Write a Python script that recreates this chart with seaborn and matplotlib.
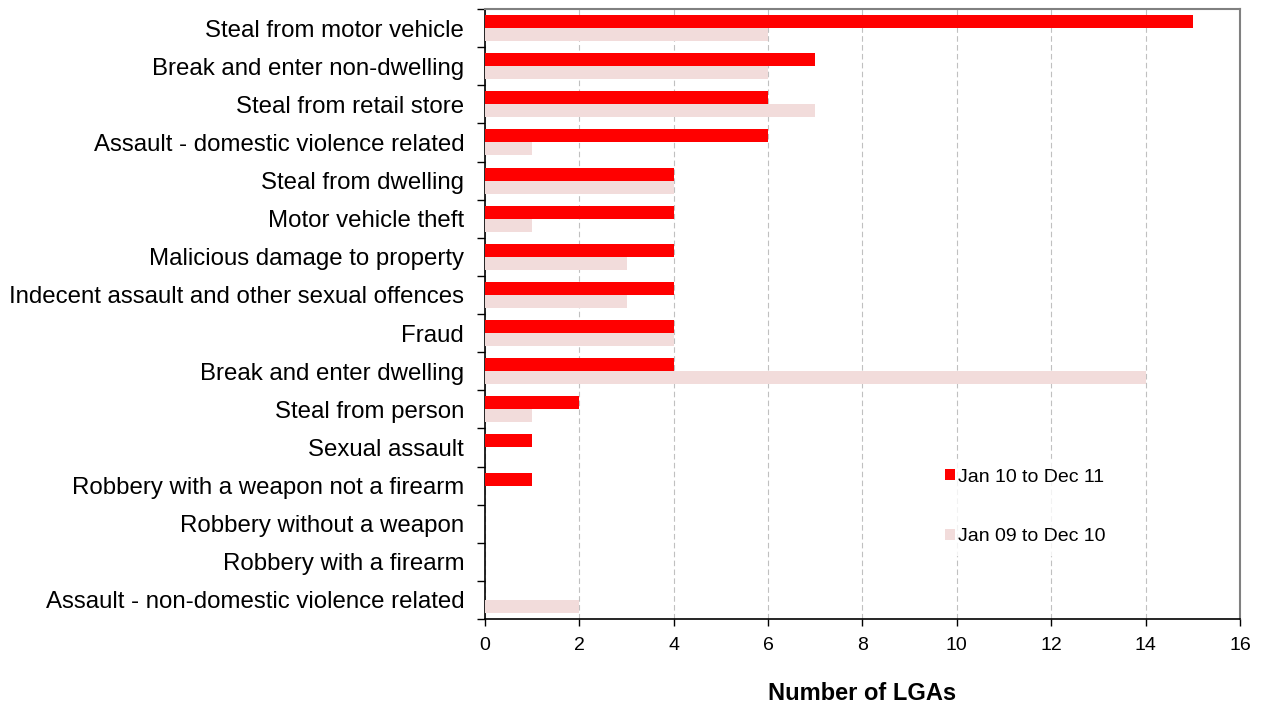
import matplotlib
matplotlib.use("Agg")
import matplotlib.pyplot as plt
import seaborn as sns
import pandas as pd
import numpy as np

categories = [
    "Steal from motor vehicle",
    "Break and enter non-dwelling",
    "Steal from retail store",
    "Assault - domestic violence related",
    "Steal from dwelling",
    "Motor vehicle theft",
    "Malicious damage to property",
    "Indecent assault and other sexual offences",
    "Fraud",
    "Break and enter dwelling",
    "Steal from person",
    "Sexual assault",
    "Robbery with a weapon not a firearm",
    "Robbery without a weapon",
    "Robbery with a firearm",
    "Assault - non-domestic violence related",
]
series_names = ["Jan 10 to Dec 11", "Jan 09 to Dec 10"]
values_1011 = [15, 7, 6, 6, 4, 4, 4, 4, 4, 4, 2, 1, 1, 0, 0, 0]
values_0910 = [6, 6, 7, 1, 4, 1, 3, 3, 4, 14, 1, 0, 0, 0, 0, 2]
x_ticks = [0, 2, 4, 6, 8, 10, 12, 14, 16]

df = pd.DataFrame({
    "Category": categories * 2,
    "Period": [series_names[0]] * len(categories) + [series_names[1]] * len(categories),
    "Value": values_1011 + values_0910,
})

sns.set_theme(style="white")
plt.rcParams["font.family"] = ["Liberation Sans", "DejaVu Sans"]
plt.rcParams["text.color"] = "black"
plt.rcParams["axes.labelcolor"] = "black"
plt.rcParams["xtick.color"] = "black"
plt.rcParams["ytick.color"] = "black"

fig = plt.figure(figsize=(12.61, 7.04), dpi=100)
ax = fig.add_axes([0.3846, 0.1207, 0.9833 - 0.3846, 0.9872 - 0.1207])

palette = {series_names[0]: "#FF0000", series_names[1]: "#F2DCDB"}
sns.barplot(data=df, y="Category", x="Value", hue="Period", order=categories,
            hue_order=series_names, palette=palette, orient="h", width=0.68,
            ax=ax, saturation=1, edgecolor="none", linewidth=0, zorder=3)

ax.set_xlim(0, 16)
ax.set_ylim(len(categories) - 0.5, -0.5)
ax.set_xticks(x_ticks)
ax.set_xticklabels([str(t) for t in x_ticks], fontsize=14)
ax.xaxis.grid(True, linestyle=(0, (5, 3)), color="#C0C0C0", linewidth=0.8, zorder=0)
ax.yaxis.grid(False)
ax.set_axisbelow(True)

ax.set_yticks(range(len(categories)))
ax.set_yticklabels(categories, fontsize=17.3)
ax.set_yticks(np.arange(-0.5, len(categories), 1.0), minor=True)
ax.tick_params(axis="y", which="major", length=0, pad=15)
ax.tick_params(axis="y", which="minor", length=6, width=1, color="#000000", direction="out", left=True)
ax.tick_params(axis="x", which="major", length=5, width=1, color="#000000", direction="out", bottom=True, pad=8)

ax.set_ylabel("")
ax.set_xlabel("Number of LGAs", fontsize=17, fontweight="bold", labelpad=20)

for side in ["top", "right"]:
    ax.spines[side].set_color("#808080")
    ax.spines[side].set_linewidth(1.5)
for side in ["left", "bottom"]:
    ax.spines[side].set_color("#000000")
    ax.spines[side].set_linewidth(1.2)

leg = ax.legend(loc="upper left", bbox_to_anchor=(0.5834, 0.2785), frameon=True,
                fontsize=14, handlelength=0.52, handleheight=0.52, handletextpad=0.15,
                labelspacing=2.2, borderpad=0.5, fancybox=False)
leg.get_frame().set_facecolor("white")
leg.get_frame().set_edgecolor("white")

fig.savefig("out.png", dpi=100)
